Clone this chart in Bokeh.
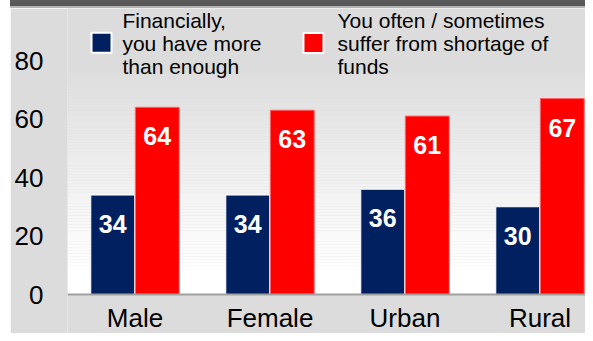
from bokeh.plotting import figure
from bokeh.models import ColumnDataSource, Range1d, FixedTicker, Label, Span, Spacer
from bokeh.layouts import row, column
from bokeh.transform import dodge
from bokeh.core.properties import value
from bokeh.embed import file_html
from bokeh.resources import INLINE

# ---- data ----
categories = ["Male", "Female", "Urban", "Rural"]
more_than_enough = [34, 34, 36, 30]
shortage_of_funds = [64, 63, 61, 67]
y_ticks = [0, 20, 40, 60, 80]
legend_labels = [
    "Financially,\nyou have more\nthan enough",
    "You often / sometimes\nsuffer from shortage of\nfunds",
]

# ---- style ----
BLUE = "#002060"
RED = "#ff0000"
BG = "#dcdcdc"
FONT = "Liberation Sans"
X_END = 3.837
Y_START = -13.33
Y_END = 97.78

pos = [i + 0.5 for i in range(len(categories))]
src = ColumnDataSource(dict(
    x=pos,
    cat=categories,
    a=more_than_enough,
    b=shortage_of_funds,
    la=[str(v) for v in more_than_enough],
    lb=[str(v) for v in shortage_of_funds],
))

p = figure(width=575, height=325, x_range=Range1d(0, X_END), y_range=Range1d(Y_START, Y_END),
           output_backend="svg", toolbar_location=None,
           min_border_left=57, min_border_right=0, min_border_top=0, min_border_bottom=0)
p.background_fill_color = BG
p.border_fill_color = BG
p.outline_line_color = None
p.grid.visible = False
p.xaxis.visible = False

# background gradient (white at bottom fading to grey)
g0, g1, n = 10.0, 76.0, 66
bots, tops, cols = [0.0], [g0], ["#ffffff"]
for k in range(n):
    b = g0 + (g1 - g0) * k / n
    t = g0 + (g1 - g0) * (k + 1) / n
    f = (k + 0.5) / n
    c = int(round(255 - (255 - 222) * f))
    bots.append(b); tops.append(t); cols.append("#%02x%02x%02x" % (c, c, c))
p.quad(left=0, right=X_END, bottom=bots, top=tops, fill_color=cols, line_color=None)

# bars
p.vbar(x=dodge("x", -0.165, range=p.x_range), top="a", width=0.325, bottom=0, source=src,
       fill_color=BLUE, line_color="#ffffff", line_width=1)
p.vbar(x=dodge("x", 0.165, range=p.x_range), top="b", width=0.325, bottom=0, source=src,
       fill_color=RED, line_color="#ff6666", line_width=1)

# baseline
p.add_layout(Span(location=0, dimension="width", line_color="#a0a0a0", line_width=2))

# value labels
for col, lab, off in (("a", "la", -0.165), ("b", "lb", 0.165)):
    p.text(x=dodge("x", off, range=p.x_range), y=col, text=lab, source=src,
           text_color="white", text_font=value(FONT), text_font_style="bold",
           text_font_size="25px", text_align="center", text_baseline="middle", y_offset=29)

# category labels under the baseline
p.text(x="x", y=0, text="cat", source=src, text_color="#000000", text_font=value(FONT),
       text_font_size="26px", text_align="center", text_baseline="middle", y_offset=23)

# y axis
p.yaxis.ticker = FixedTicker(ticks=y_ticks)
p.yaxis.axis_line_color = None
p.yaxis.major_tick_line_color = None
p.yaxis.minor_tick_line_color = None
p.yaxis.major_tick_in = 0
p.yaxis.major_tick_out = 0
p.yaxis.major_label_standoff = 24
p.yaxis.major_label_text_font = FONT
p.yaxis.major_label_text_font_size = "26px"
p.yaxis.major_label_text_color = "#000000"

# legend (manual)
p.rect(x=[0.252, 1.822], y=[86.1, 86.0], width=20, height=20,
       width_units="screen", height_units="screen",
       fill_color=[BLUE, RED], line_color="white", line_width=2)
for lx, txt in ((0.407, legend_labels[0]), (2.0, legend_labels[1])):
    p.add_layout(Label(x=lx, y=Y_END, text=txt, text_align="left", text_baseline="top",
                       text_font=FONT, text_font_size="21px", text_color="#000000",
                       text_line_height=1.02))

left_strip = Spacer(width=10, height=333)
top_band = Spacer(width=575, height=8, styles={
    "background": "linear-gradient(to bottom, #5b5b5b 0px, #555555 6px, #b4b4b4 6px, #b4b4b4 8px)"})
layout = row(left_strip, column(top_band, p, spacing=0), spacing=0)

open("out.html", "w").write(file_html(layout, INLINE))
